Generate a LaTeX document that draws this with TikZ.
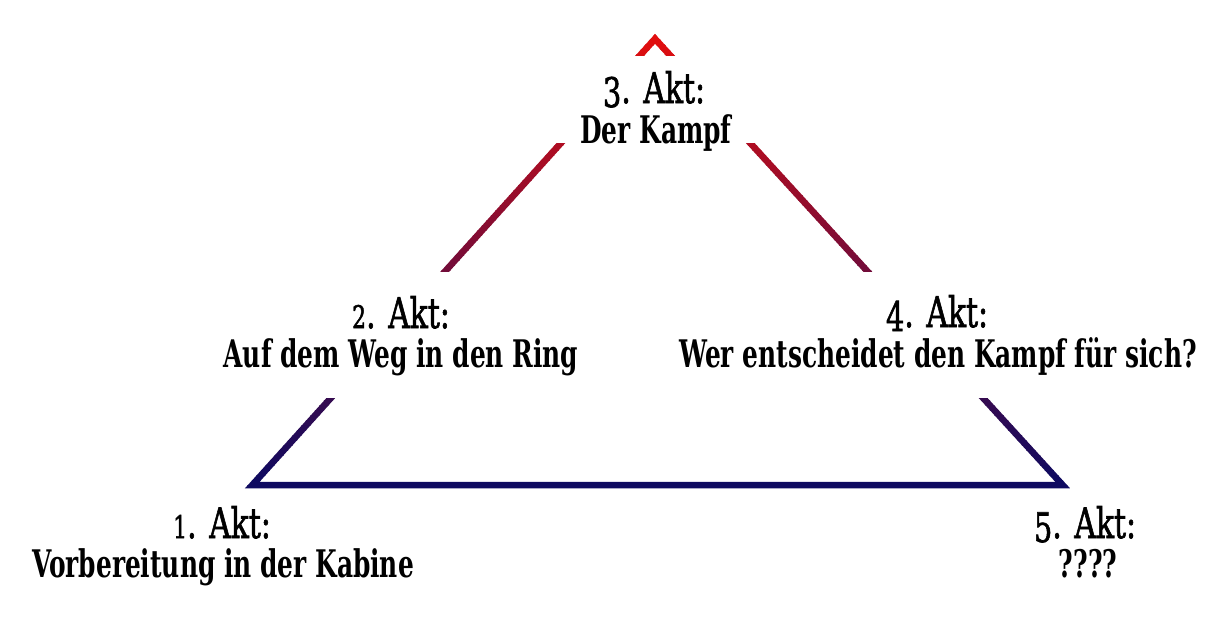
\documentclass[tikz,border=0pt]{standalone}
\usepackage{fontspec}
\setmainfont{DejaVu Serif}
\newfontfamily\titlefont{DejaVu Serif}[FakeBold=1.8]
\newfontfamily\descfont{DejaVu Serif}[UprightFont=*-Bold]
\usepackage{graphicx}
\definecolor{navybot}{RGB}{14,10,96}
\definecolor{redtop}{RGB}{226,14,14}
\newcommand\condt[1]{\scalebox{0.71}[1]{#1}}
\newcommand\condd[1]{\scalebox{0.655}[1]{#1}}
\newcommand\osup[1]{\scalebox{0.74}{#1}}
\newcommand\osdn[1]{\raisebox{-4pt}{\scalebox{0.97}{#1}}}
\tikzset{
  acttitle/.style={anchor=base, inner sep=0pt, font=\titlefont\fontsize{42}{48}\selectfont},
  actdesc/.style={anchor=base, inner sep=0pt, font=\descfont\fontsize{38}{44}\selectfont},
  gapbox/.style={fill=white},
  sideline/.style={line width=6.5pt, line join=miter, line cap=butt}
}
\begin{document}
\begin{tikzpicture}[x=1pt,y=-1pt]
\useasboundingbox (0,0) rectangle (1217,623);
\fill[white] (0,0) rectangle (1217,623);
\coordinate (L) at (252.3,485);
\coordinate (T) at (655,38.8);
\coordinate (R) at (1062.6,485);
% vertical gradient by bands
\foreach \i in {0,...,92} {
  \pgfmathsetmacro\ya{30+\i*5}
  \pgfmathsetmacro\yb{\ya+5.6}
  \pgfmathtruncatemacro\pct{max(0,min(100,(485-(\ya+2.5))/446.2*100))}
  \begin{scope}
    \clip (0,\ya) rectangle (1217,\yb);
    \draw[sideline, draw=redtop!\pct!navybot] (L) -- (T) -- (R) -- cycle;
  \end{scope}
}
% interruptions of the sides behind the labels
\fill[gapbox] (520,56) rectangle (780,143);
\fill[gapbox] (300,272) rectangle (600,398);
\fill[gapbox] (640,272) rectangle (1210,398);
% labels
\node[acttitle] (a1) at (222,538) {\condt{\osup{1}. Akt:}};
\node[actdesc]  (d1) at (223,577) {\condd{Vorbereitung in der Kabine}};
\node[acttitle] (a2) at (401,328) {\condt{\osup{2}. Akt:}};
\node[actdesc]  (d2) at (401,367) {\condd{Auf dem Weg in den Ring}};
\node[acttitle] (a3) at (654,103) {\condt{\osdn{3}. Akt:}};
\node[actdesc]  (d3) at (656,143) {\condd{Der Kampf}};
\node[acttitle] (a4) at (937,327) {\condt{\osdn{4}. Akt:}};
\node[actdesc]  (d4) at (938,367) {\condd{Wer entscheidet den Kampf für sich?}};
\node[acttitle] (a5) at (1085,538) {\condt{\osdn{5}. Akt:}};
\node[actdesc]  (d5) at (1088,577) {\condd{????}};
\end{tikzpicture}
\end{document}
